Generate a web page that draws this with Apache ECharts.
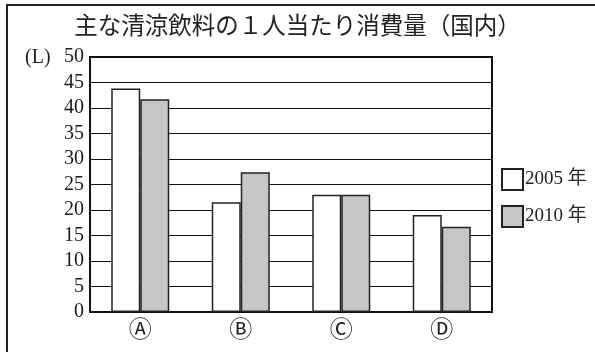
<!DOCTYPE html>
<html><head><meta charset="utf-8">
<script src="https://cdn.jsdelivr.net/npm/echarts@6/dist/echarts.min.js"></script>
<style>html,body{margin:0;padding:0;background:#fff}#c{width:595px;height:352px}</style>
</head><body><div id="c"></div>
<script>
const categories = ['Ⓐ', 'Ⓑ', 'Ⓒ', 'Ⓓ'];
const values2005 = [43.8, 21.5, 23.0, 19.0];
const values2010 = [41.7, 27.4, 23.0, 16.7];
const seriesNames = ['2005 年', '2010 年'];
const titleText = '主な清涼飲料の１人当たり消費量（国内）';
const unitLabel = '(L)';

const FONT = "'Liberation Serif', 'Noto Sans CJK JP', serif";
const chart = echarts.init(document.getElementById('c'), null, {renderer: 'canvas'});
chart.setOption({
  animation: false,
  backgroundColor: '#fff',
  title: {
    text: titleText, left: 'center', top: 11,
    textStyle: {fontFamily: FONT, fontSize: 23.5, fontWeight: 'normal', color: '#222'}
  },
  graphic: [
    {type: 'rect', shape: {x: 7, y: 5, width: 600, height: 360}, style: {fill: null, stroke: '#222', lineWidth: 2}, z: -1},
    {type: 'text', left: 25, top: 48, style: {text: unitLabel, font: "20px 'Liberation Serif', serif", fill: '#222'}}
  ],
  legend: {
    orient: 'vertical', left: 496, top: 163, itemGap: 14,
    itemWidth: 21, itemHeight: 21, icon: 'rect',
    textStyle: {fontFamily: FONT, fontSize: 19, color: '#222', padding: [0, 0, 0, -3]},
    data: seriesNames
  },
  grid: {left: 90, right: 103, top: 57, bottom: 40, show: true, borderColor: '#111', borderWidth: 2, backgroundColor: 'transparent'},
  xAxis: {
    type: 'category', data: categories,
    axisLine: {lineStyle: {color: '#111', width: 2}},
    axisTick: {show: false},
    axisLabel: {fontFamily: FONT, fontSize: 23, color: '#222', margin: 7}
  },
  yAxis: {
    type: 'value', min: 0, max: 50, interval: 5,
    axisLine: {show: true, lineStyle: {color: '#111', width: 2}},
    axisTick: {show: false},
    axisLabel: {fontFamily: FONT, fontSize: 20, color: '#1a1a1a', margin: 6},
    splitLine: {lineStyle: {color: '#111', width: 1}}
  },
  series: [
    {name: seriesNames[0], type: 'bar', data: values2005, barWidth: 29, barGap: '0%',
     itemStyle: {color: '#ffffff', borderColor: '#222', borderWidth: 1.5}},
    {name: seriesNames[1], type: 'bar', data: values2010, barWidth: 29,
     itemStyle: {color: '#c6c6c6', borderColor: '#222', borderWidth: 1.5}}
  ]
});
</script></body></html>
